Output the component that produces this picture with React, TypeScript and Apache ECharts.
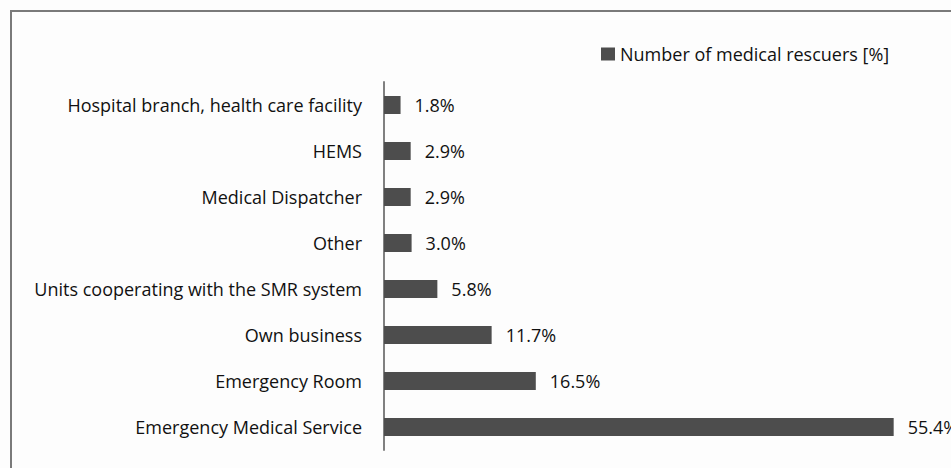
import React, { useEffect, useRef } from "react";
import * as echarts from "echarts";

const categories = [
  "Hospital branch, health care facility",
  "HEMS",
  "Medical Dispatcher",
  "Other",
  "Units cooperating with the SMR system",
  "Own business",
  "Emergency Room",
  "Emergency Medical Service",
];
const values = [1.8, 2.9, 2.9, 3.0, 5.8, 11.7, 16.5, 55.4];
const seriesName = "Number of medical rescuers [%]";

const FONT = "'Open Sans', 'Noto Sans', sans-serif";

export default function App() {
  const ref = useRef<HTMLDivElement>(null);
  useEffect(() => {
    if (!ref.current) return;
    const chart = echarts.init(ref.current, null, { renderer: "svg" });
    chart.setOption({
      animation: false,
      backgroundColor: "#fdfdfd",
      graphic: [
        {
          type: "rect",
          shape: { x: 11, y: 11, width: 1000, height: 600 },
          style: { fill: "none", stroke: "#7a7a7a", lineWidth: 2 },
          silent: true,
        },
      ],
      legend: {
        data: [seriesName],
        left: 601,
        top: 45,
        padding: 0,
        itemWidth: 14,
        itemHeight: 13,
        icon: "rect",
        textStyle: { fontFamily: FONT, fontSize: 18, color: "#111" },
      },
      grid: { left: 384, top: 82, width: 552, height: 368, containLabel: false },
      xAxis: {
        type: "value",
        min: 0,
        max: 60,
        show: false,
      },
      yAxis: {
        type: "category",
        data: categories,
        inverse: true,
        axisLine: { show: true, lineStyle: { color: "#808080", width: 2 } },
        axisTick: { show: false },
        axisLabel: {
          fontFamily: FONT,
          fontSize: 18,
          color: "#111",
          margin: 22,
        },
        splitLine: { show: false },
      },
      series: [
        {
          name: seriesName,
          type: "bar",
          data: values,
          barWidth: 18,
          itemStyle: { color: "#4d4d4d" },
          label: {
            show: true,
            position: "right",
            distance: 14,
            fontFamily: FONT,
            fontSize: 18,
            color: "#111",
            formatter: (p: any) => Number(p.value).toFixed(1) + "%",
          },
        },
      ],
    });
    return () => chart.dispose();
  }, []);
  return (
    <div
      ref={ref}
      style={{ position: "fixed", left: 0, top: 0, width: 951, height: 468 }}
    />
  );
}
